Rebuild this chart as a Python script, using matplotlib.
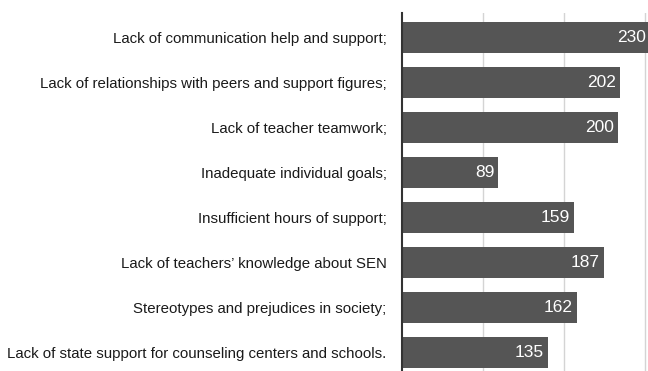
import matplotlib.pyplot as plt
import numpy as np

categories = [
    "Lack of communication help and support;",
    "Lack of relationships with peers and support figures;",
    "Lack of teacher teamwork;",
    "Inadequate individual goals;",
    "Insufficient hours of support;",
    "Lack of teachers\u2019 knowledge about SEN",
    "Stereotypes and prejudices in society;",
    "Lack of state support for counseling centers and schools.",
]
values = [230, 202, 200, 89, 159, 187, 162, 135]
grid_ticks = [75, 150, 225]

plt.rcParams['font.family'] = ['Liberation Sans', 'DejaVu Sans']

fig = plt.figure(figsize=(6.48, 3.71), dpi=100)
ax = fig.add_axes([402 / 648, 0.0, 246 / 648, 1 - 13 / 371])

y = np.arange(len(categories))
ax.barh(y, values, height=0.69, color="#555555", zorder=2)

for yi, v in zip(y, values):
    ax.text(v - 3.5, yi, str(v), ha="right", va="center", color="white",
            fontsize=12.5, zorder=3)

ax.set_xlim(0, 228)
ax.set_ylim(7.411, -0.544)
ax.set_yticks(y)
ax.set_yticklabels(categories, fontsize=10.8, color="#1a1a1a")
ax.set_xticks(grid_ticks)
ax.set_xticklabels([])
ax.tick_params(axis="both", length=0)
ax.tick_params(axis="y", pad=11)
ax.grid(axis="x", color="#d4d4d4", linewidth=1, zorder=0)

for s in ["top", "right", "bottom"]:
    ax.spines[s].set_visible(False)
ax.spines["left"].set_color("#333333")
ax.spines["left"].set_linewidth(1.5)
ax.spines["left"].set_zorder(4)

fig.savefig("out.png", dpi=100)
